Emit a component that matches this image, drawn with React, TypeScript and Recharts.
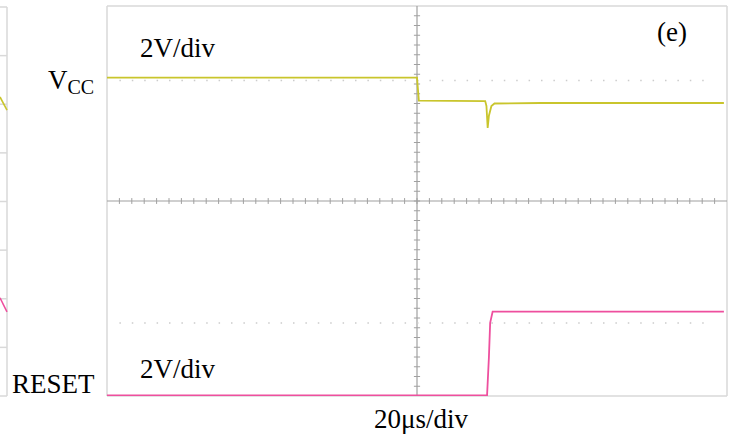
import { LineChart, Line, XAxis, YAxis, CartesianGrid, ReferenceLine } from 'recharts'

// scope screen: 10 x 8 divisions, values in divisions
const xTicks = [0, 1, 2, 3, 4, 5, 6, 7, 8, 9, 10]
const yTicks = [0, 1, 2, 3, 4, 5, 6, 7, 8]

const vccTime = [0, 2.5, 5.0, 5.03, 6.1, 6.12, 6.14, 6.16, 6.2, 6.25, 7.0, 9.95]
const vccLevel = [6.53, 6.53, 6.53, 6.06, 6.05, 5.95, 5.5, 5.75, 5.95, 6.0, 6.01, 6.01]

const resetTime = [0, 3.0, 6.13, 6.16, 6.18, 6.22, 7.5, 9.95]
const resetLevel = [0.01, 0.01, 0.01, 0.8, 1.5, 1.73, 1.73, 1.73]

// cursor levels (dotted)
const cursorLevels = [6.47, 1.5]

// tail of the previous panel at the left edge
const stripTime = [0, 1]
const stripVcc = [6.15, 5.88]
const stripReset = [2.02, 1.73]

const VCC_COLOR = '#c9c52c'
const RESET_COLOR = '#ee4f9e'
const GRID = '#d9d9d9'
const AXIS = '#a0a0a0'
const FONT = '"Liberation Serif", "Times New Roman", serif'

const vccData = vccTime.map((t, i) => ({ t, v: vccLevel[i] }))
const resetData = resetTime.map((t, i) => ({ t, v: resetLevel[i] }))
const stripVccData = stripTime.map((t, i) => ({ t, v: stripVcc[i] }))
const stripResetData = stripTime.map((t, i) => ({ t, v: stripReset[i] }))

// minor graticule ticks every 1/5 division on the centre lines
const minorX = Array.from({ length: 51 }, (_, i) => i * 0.2).filter((x) => x > 0 && x < 10)
const minorY = Array.from({ length: 41 }, (_, i) => i * 0.2).filter((y) => y > 0 && y < 8)

export default function App() {
  return (
    <div style={{ position: 'absolute', left: 0, top: 0, width: 734, height: 440, background: '#fff' }}>
      <div style={{ position: 'absolute', left: 0, top: 0 }}>
        <LineChart width={8} height={440} margin={{ top: 7, right: 1, bottom: 44, left: 0 }}>
          <XAxis type="number" dataKey="t" domain={[0, 1]} ticks={[1]} height={0} tick={false} axisLine={false} tickLine={false} />
          <YAxis type="number" domain={[0, 8]} ticks={yTicks} width={0} tick={false} axisLine={false} tickLine={false} />
          {yTicks.map((y) => (
            <ReferenceLine key={'sy' + y} y={y} stroke={GRID} strokeWidth={1.5} />
          ))}
          <ReferenceLine x={1} stroke={GRID} strokeWidth={1.5} />
          <Line data={stripVccData} dataKey="v" type="linear" dot={false} stroke={VCC_COLOR} strokeWidth={1.6} isAnimationActive={false} />
          <Line data={stripResetData} dataKey="v" type="linear" dot={false} stroke={RESET_COLOR} strokeWidth={1.6} isAnimationActive={false} />
        </LineChart>
      </div>
      <div style={{ position: 'absolute', left: 0, top: 0 }}>
        <LineChart width={734} height={440} margin={{ top: 6, right: 7, bottom: 44, left: 107 }}>
          <CartesianGrid stroke={GRID} strokeWidth={1.5} />
          <XAxis type="number" dataKey="t" domain={[0, 10]} ticks={xTicks} height={0} tick={false} axisLine={false} tickLine={false} allowDataOverflow />
          <YAxis type="number" domain={[0, 8]} ticks={yTicks} width={0} tick={false} axisLine={false} tickLine={false} allowDataOverflow />
          <ReferenceLine x={5} stroke={AXIS} strokeWidth={1.2} />
          <ReferenceLine y={4} stroke={AXIS} strokeWidth={1.2} />
          {minorX.map((x) => (
            <ReferenceLine key={'mx' + x} segment={[{ x, y: 3.94 }, { x, y: 4.06 }]} stroke={AXIS} strokeWidth={1} />
          ))}
          {minorY.map((y) => (
            <ReferenceLine key={'my' + y} segment={[{ x: 4.95, y }, { x: 5.05, y }]} stroke={AXIS} strokeWidth={1} />
          ))}
          {cursorLevels.map((y) => (
            <ReferenceLine key={'c' + y} segment={[{ x: 0.2, y }, { x: 9.8, y }]} stroke="#cccccc" strokeWidth={1.5} strokeDasharray="1.5 10.9" />
          ))}
          <Line data={vccData} dataKey="v" type="linear" dot={false} stroke={VCC_COLOR} strokeWidth={1.8} isAnimationActive={false} />
          <Line data={resetData} dataKey="v" type="linear" dot={false} stroke={RESET_COLOR} strokeWidth={1.8} isAnimationActive={false} />
        </LineChart>
      </div>
      <svg width={734} height={440} style={{ position: 'absolute', left: 0, top: 0, pointerEvents: 'none' }}>
        <g fontFamily={FONT} fill="#000">
          <text x={140} y={57} fontSize={27}>2V/div</text>
          <text x={48} y={89} fontSize={27}>
            V<tspan fontSize={20} dy={5}>CC</tspan>
          </text>
          <text x={657} y={41} fontSize={27}>(e)</text>
          <text x={12} y={393} fontSize={27}>RESET</text>
          <text x={140} y={378} fontSize={27}>2V/div</text>
          <text x={421} y={428} fontSize={27} textAnchor="middle">20μs/div</text>
        </g>
      </svg>
    </div>
  )
}
